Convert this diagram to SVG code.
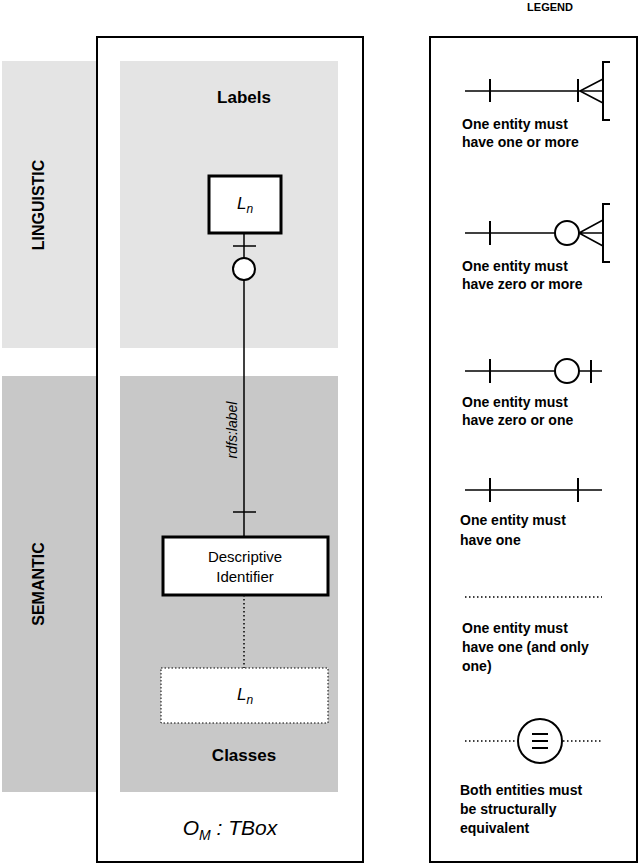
<svg xmlns="http://www.w3.org/2000/svg" width="640" height="865" viewBox="0 0 640 865">
<style>
text{font-family:"Liberation Sans",Arial,sans-serif;fill:#000}
.b{font-weight:bold}
.l{stroke:#000;stroke-width:1.5;fill:none}
.t{stroke:#000;stroke-width:2;fill:none}
.d{stroke:#000;stroke-width:1.5;stroke-dasharray:1.5 2.5;fill:none}
.lg{font-size:14px;font-weight:bold}
</style>
<rect width="640" height="865" fill="#fff"/>
<g id="bands">
<rect x="2" y="61" width="100" height="287" fill="#e4e4e4"/>
<rect x="2" y="376" width="100" height="416" fill="#c8c8c8"/>
<text class="b" font-size="16" transform="translate(44 205) rotate(-90)" text-anchor="middle">LINGUISTIC</text>
<text class="b" font-size="16" transform="translate(44 584) rotate(-90)" text-anchor="middle">SEMANTIC</text>
</g>
<g id="tbox">
<rect x="97" y="37" width="266" height="825" fill="#fff" stroke="#000" stroke-width="2"/>
<rect x="120" y="61" width="218" height="287" fill="#e4e4e4"/>
<rect x="120" y="376" width="218" height="416" fill="#c8c8c8"/>
<text class="b" x="244" y="103" font-size="17" text-anchor="middle">Labels</text>
<text class="b" x="244" y="761" font-size="17" text-anchor="middle">Classes</text>
<text x="230" y="835" font-size="21" font-style="italic" text-anchor="middle">O<tspan font-size="14" dy="5">M</tspan><tspan dy="-5"> : TBox</tspan></text>
</g>
<g id="connectors">
<line class="l" x1="244" y1="233" x2="244" y2="258"/>
<line class="l" x1="233" y1="246" x2="256" y2="246"/>
<circle cx="244" cy="269" r="11" fill="#fff" stroke="#000" stroke-width="2"/>
<line class="l" x1="244" y1="280" x2="244" y2="537"/>
<line class="l" x1="233" y1="512" x2="256" y2="512"/>
<text x="237" y="430" font-size="14" font-style="italic" text-anchor="middle" transform="rotate(-90 237 430)">rdfs:label</text>
<line class="d" x1="244" y1="595" x2="244" y2="668"/>
</g>
<g id="ln-label">
<rect x="209" y="176" width="72" height="57" fill="#fff" stroke="#000" stroke-width="3"/>
<text x="245" y="209" font-size="17" font-style="italic" text-anchor="middle">L<tspan font-size="12" dy="4">n</tspan></text>
</g>
<g id="descriptive-identifier">
<rect x="163" y="537" width="165" height="58" fill="#fff" stroke="#000" stroke-width="3"/>
<text x="245" y="562" font-size="15" text-anchor="middle">Descriptive</text>
<text x="245" y="582" font-size="15" text-anchor="middle">Identifier</text>
</g>
<g id="ln-class">
<rect x="161" y="668" width="167" height="55" fill="#fff" stroke="#000" stroke-width="1" stroke-dasharray="1.5 2"/>
<text x="245" y="700" font-size="17" font-style="italic" text-anchor="middle">L<tspan font-size="12" dy="4">n</tspan></text>
</g>
<g id="legend">
<text class="b" x="550" y="11" font-size="11" text-anchor="middle">LEGEND</text>
<rect x="430" y="37" width="207" height="825" fill="#fff" stroke="#000" stroke-width="2"/>
<line class="l" x1="465" y1="91" x2="603" y2="91"/>
<line class="t" x1="490" y1="79" x2="490" y2="102"/>
<line class="t" x1="578" y1="79" x2="578" y2="102"/>
<path class="l" d="M580 91 L603 79 M580 91 L603 103"/>
<path class="t" d="M610 62 H603 V120 H610"/>
<text class="lg" x="462" y="129">One entity must</text>
<text class="lg" x="462" y="147">have one or more</text>
<line class="l" x1="465" y1="233" x2="555" y2="233"/>
<line class="t" x1="490" y1="221" x2="490" y2="245"/>
<circle cx="567" cy="233" r="12" fill="#fff" stroke="#000" stroke-width="2"/>
<path class="l" d="M579 233 H603 M579 233 L603 220 M579 233 L603 246"/>
<path class="t" d="M610 204 H603 V262 H610"/>
<text class="lg" x="462" y="271">One entity must</text>
<text class="lg" x="462" y="289">have zero or more</text>
<line class="l" x1="465" y1="371" x2="555" y2="371"/>
<line class="t" x1="490" y1="359" x2="490" y2="383"/>
<circle cx="567" cy="371" r="12" fill="#fff" stroke="#000" stroke-width="2"/>
<line class="l" x1="579" y1="371" x2="602" y2="371"/>
<line class="t" x1="591" y1="360" x2="591" y2="383"/>
<text class="lg" x="462" y="407">One entity must</text>
<text class="lg" x="462" y="425">have zero or one</text>
<line class="l" x1="465" y1="490" x2="602" y2="490"/>
<line class="t" x1="490" y1="478" x2="490" y2="502"/>
<line class="t" x1="578" y1="478" x2="578" y2="502"/>
<text class="lg" x="460" y="525">One entity must</text>
<text class="lg" x="460" y="545">have one</text>
<line class="d" x1="465" y1="597" x2="602" y2="597"/>
<text class="lg" x="462" y="633">One entity must</text>
<text class="lg" x="462" y="652">have one (and only</text>
<text class="lg" x="462" y="671">one)</text>
<line class="d" x1="465" y1="741" x2="517" y2="741"/>
<line class="d" x1="563" y1="741" x2="602" y2="741"/>
<circle cx="540" cy="741" r="22" fill="#fff" stroke="#000" stroke-width="2"/>
<path class="t" d="M532 734 H548 M532 741 H548 M532 748 H548"/>
<text class="lg" x="460" y="795">Both entities must</text>
<text class="lg" x="460" y="814">be structurally</text>
<text class="lg" x="460" y="833">equivalent</text>
</g>
</svg>
